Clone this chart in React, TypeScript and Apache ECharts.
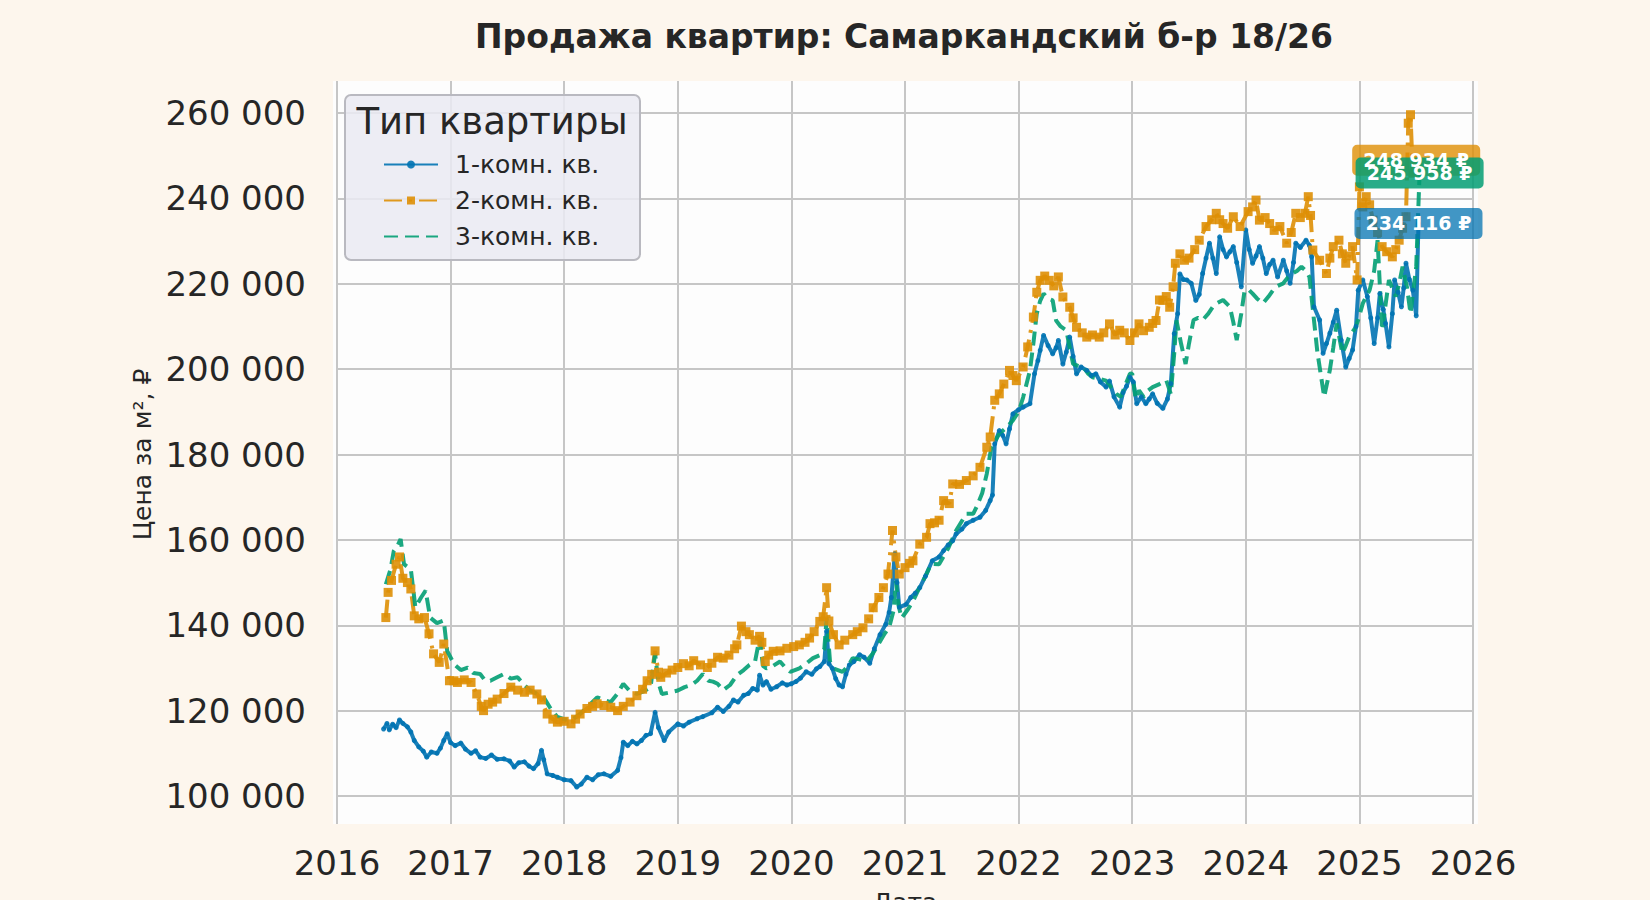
import React, { useEffect, useRef } from "react";
import * as echarts from "echarts";

const TITLE = "Продажа квартир: Самаркандский б-р 18/26";
const LEGEND_TITLE = "Тип квартиры";
const SERIES_NAMES = ["1-комн. кв.", "2-комн. кв.", "3-комн. кв."];
const YEAR_TICKS_MIN = 2016;
const YEAR_TICKS_MAX = 2026;
const PRICE_TICK_MIN = 100000;
const PRICE_TICK_MAX = 260000;
const PRICE_TICK_STEP = 20000;

// [decimal year, price per m²]
const oneRoom: [number, number][] = [
  [2016.41, 115700], [2016.44, 117000], [2016.46, 115500], [2016.49, 116800], [2016.52, 116000],
  [2016.55, 117800], [2016.58, 117000], [2016.62, 116200], [2016.65, 115000], [2016.68, 113000],
  [2016.72, 111500], [2016.76, 110500], [2016.79, 109100], [2016.83, 110300], [2016.88, 110000],
  [2016.91, 111200], [2016.94, 113000], [2016.97, 114600], [2017.0, 112500], [2017.04, 111800],
  [2017.09, 112400], [2017.13, 111000], [2017.18, 110000], [2017.22, 110600], [2017.26, 109100],
  [2017.31, 108800], [2017.36, 109600], [2017.41, 108600], [2017.47, 108700], [2017.52, 108200],
  [2017.56, 106800], [2017.6, 107800], [2017.65, 108000], [2017.69, 107000], [2017.73, 106400],
  [2017.77, 107600], [2017.8, 110700], [2017.82, 108500], [2017.85, 105200], [2017.9, 104800],
  [2017.94, 104400], [2018.0, 103800], [2018.06, 103600], [2018.11, 102100], [2018.15, 102800],
  [2018.2, 104400], [2018.25, 103800], [2018.3, 105000], [2018.35, 105200], [2018.41, 104600],
  [2018.47, 106000], [2018.5, 109000], [2018.52, 112600], [2018.56, 111800], [2018.6, 112800],
  [2018.64, 112200], [2018.68, 113000], [2018.72, 114200], [2018.76, 114600], [2018.8, 119600],
  [2018.83, 116000], [2018.88, 113000], [2018.92, 115000], [2019.0, 116900], [2019.05, 116400],
  [2019.1, 117300], [2019.17, 118100], [2019.22, 118600], [2019.3, 119500], [2019.35, 120800],
  [2019.4, 119800], [2019.45, 121000], [2019.49, 122500], [2019.53, 122000], [2019.58, 123600],
  [2019.62, 124000], [2019.66, 125200], [2019.7, 124800], [2019.72, 128300], [2019.75, 126000],
  [2019.78, 126800], [2019.82, 125000], [2019.87, 125600], [2019.92, 126500], [2019.96, 126000],
  [2020.0, 126300], [2020.04, 126800], [2020.08, 127600], [2020.13, 129100], [2020.18, 128500],
  [2020.22, 129800], [2020.25, 130300], [2020.29, 131500], [2020.31, 138600], [2020.33, 131000],
  [2020.36, 129900], [2020.39, 127500], [2020.42, 126000], [2020.45, 125600], [2020.48, 128500],
  [2020.51, 130700], [2020.55, 131500], [2020.6, 133100], [2020.64, 132500], [2020.69, 131100],
  [2020.73, 134500], [2020.78, 137800], [2020.83, 140200], [2020.86, 143000], [2020.88, 146500],
  [2020.91, 156700], [2020.93, 150000], [2020.95, 144200], [2021.01, 144900], [2021.05, 146500],
  [2021.09, 147500], [2021.13, 148800], [2021.18, 151500], [2021.24, 155100], [2021.3, 156000],
  [2021.34, 157500], [2021.38, 158800], [2021.42, 159800], [2021.45, 161400], [2021.5, 162500],
  [2021.54, 163800], [2021.6, 164600], [2021.66, 165300], [2021.71, 166900], [2021.75, 169200],
  [2021.77, 170500], [2021.79, 182500], [2021.83, 185600], [2021.86, 184500], [2021.89, 182500],
  [2021.92, 186000], [2021.95, 189500], [2022.0, 190500], [2022.04, 191100], [2022.1, 191900],
  [2022.14, 198900], [2022.17, 202000], [2022.19, 204400], [2022.22, 207900], [2022.26, 205500],
  [2022.3, 203600], [2022.33, 205000], [2022.35, 206700], [2022.39, 201200], [2022.42, 204000],
  [2022.45, 207500], [2022.48, 203000], [2022.51, 198900], [2022.55, 200500], [2022.6, 199700],
  [2022.64, 198500], [2022.68, 198900], [2022.72, 197000], [2022.77, 195800], [2022.8, 197200],
  [2022.84, 193500], [2022.89, 191100], [2022.92, 194500], [2022.95, 196000], [2022.98, 198100],
  [2023.01, 197000], [2023.04, 191900], [2023.08, 193500], [2023.12, 191900], [2023.15, 193000],
  [2023.18, 194200], [2023.22, 192000], [2023.27, 190800], [2023.31, 193000], [2023.34, 196600],
  [2023.37, 208300], [2023.4, 213000], [2023.42, 222300], [2023.45, 221000], [2023.48, 220900],
  [2023.52, 220100], [2023.56, 216100], [2023.59, 217500], [2023.62, 222400], [2023.65, 226000],
  [2023.68, 229500], [2023.71, 226000], [2023.74, 222400], [2023.77, 231000], [2023.8, 228000],
  [2023.83, 226300], [2023.86, 227500], [2023.89, 228700], [2023.92, 225000], [2023.96, 219300],
  [2024.0, 232600], [2024.03, 228000], [2024.06, 224800], [2024.09, 226500], [2024.12, 228700],
  [2024.15, 226000], [2024.18, 222400], [2024.21, 224500], [2024.24, 225500], [2024.28, 221600],
  [2024.33, 225500], [2024.36, 223000], [2024.39, 220100], [2024.42, 225000], [2024.44, 229500],
  [2024.48, 228500], [2024.53, 230200], [2024.56, 229000], [2024.58, 226300], [2024.6, 214600],
  [2024.65, 211500], [2024.68, 203700], [2024.71, 206000], [2024.74, 208400], [2024.77, 211000],
  [2024.8, 213800], [2024.84, 206800], [2024.88, 200500], [2024.91, 202500], [2024.94, 204500],
  [2024.97, 210000], [2024.99, 218500], [2025.03, 220900], [2025.07, 217000], [2025.1, 212000],
  [2025.13, 206000], [2025.16, 212000], [2025.18, 217700], [2025.21, 214000], [2025.23, 210700],
  [2025.26, 205200], [2025.29, 213000], [2025.31, 220900], [2025.34, 218000], [2025.37, 214600],
  [2025.39, 219000], [2025.41, 224800], [2025.44, 221000], [2025.47, 218500], [2025.5, 212500],
  [2025.52, 234116],
];

const twoRoom: [number, number][] = [
  [2016.43, 141800], [2016.45, 147700], [2016.48, 150500], [2016.52, 154300], [2016.55, 156000],
  [2016.58, 151000], [2016.62, 150000], [2016.65, 148500], [2016.68, 142200], [2016.72, 141500],
  [2016.77, 141800], [2016.81, 138000], [2016.85, 133300], [2016.9, 131300], [2016.94, 135600],
  [2016.99, 127000], [2017.03, 127000], [2017.06, 126600], [2017.12, 127200], [2017.18, 126600],
  [2017.23, 123900], [2017.27, 121000], [2017.29, 120000], [2017.33, 121500], [2017.37, 122000],
  [2017.41, 122700], [2017.47, 124000], [2017.53, 125500], [2017.59, 124800], [2017.65, 124300],
  [2017.7, 124800], [2017.76, 123900], [2017.8, 122500], [2017.85, 119200], [2017.9, 118000],
  [2017.94, 117300], [2018.0, 117500], [2018.06, 116900], [2018.1, 118000], [2018.14, 119200],
  [2018.2, 120500], [2018.25, 121000], [2018.29, 121600], [2018.35, 121200], [2018.41, 120800],
  [2018.47, 120000], [2018.52, 121000], [2018.58, 122000], [2018.64, 123500], [2018.69, 125000],
  [2018.73, 127000], [2018.77, 128500], [2018.8, 134000], [2018.83, 129000], [2018.85, 127800],
  [2018.9, 128800], [2018.95, 129500], [2019.0, 130100], [2019.05, 131000], [2019.1, 130500],
  [2019.14, 131700], [2019.2, 130700], [2019.26, 130100], [2019.3, 131100], [2019.35, 132500],
  [2019.4, 132300], [2019.45, 133000], [2019.5, 134500], [2019.52, 135400], [2019.56, 139800],
  [2019.6, 138500], [2019.63, 137800], [2019.68, 136500], [2019.72, 137400], [2019.74, 136000],
  [2019.77, 131500], [2019.8, 133000], [2019.84, 133900], [2019.9, 134000], [2019.96, 134600],
  [2020.02, 135000], [2020.07, 135400], [2020.12, 136000], [2020.16, 137000], [2020.2, 138500],
  [2020.25, 140900], [2020.28, 142000], [2020.31, 148800], [2020.33, 141000], [2020.37, 137800],
  [2020.42, 135400], [2020.47, 136500], [2020.54, 137800], [2020.58, 138500], [2020.63, 139400],
  [2020.68, 141500], [2020.72, 144100], [2020.77, 146500], [2020.81, 148800], [2020.85, 152000],
  [2020.89, 162200], [2020.92, 156000], [2020.95, 152000], [2021.0, 153500], [2021.04, 154500],
  [2021.07, 155100], [2021.13, 159000], [2021.19, 160600], [2021.22, 163800], [2021.26, 164000],
  [2021.3, 164600], [2021.34, 169200], [2021.39, 168500], [2021.42, 173100], [2021.48, 173000],
  [2021.54, 173900], [2021.6, 175000], [2021.66, 177000], [2021.72, 181700], [2021.75, 184100],
  [2021.79, 192700], [2021.83, 194200], [2021.87, 196500], [2021.92, 199700], [2021.95, 198500],
  [2021.98, 197300], [2022.04, 200500], [2022.08, 205200], [2022.13, 212200], [2022.16, 218000],
  [2022.19, 220800], [2022.23, 221800], [2022.27, 220800], [2022.31, 219500], [2022.35, 221600],
  [2022.39, 216900], [2022.45, 214500], [2022.48, 212000], [2022.51, 209800], [2022.56, 208500],
  [2022.6, 207500], [2022.65, 208000], [2022.71, 207500], [2022.75, 208500], [2022.8, 210600],
  [2022.85, 208000], [2022.89, 209100], [2022.93, 208500], [2022.98, 206700], [2023.02, 208500],
  [2023.06, 210600], [2023.1, 209000], [2023.15, 209800], [2023.18, 210700], [2023.21, 211400],
  [2023.24, 216200], [2023.27, 216100], [2023.3, 217000], [2023.33, 214500], [2023.36, 219300],
  [2023.38, 224800], [2023.42, 227000], [2023.46, 225500], [2023.5, 226000], [2023.55, 228000],
  [2023.59, 230200], [2023.65, 233400], [2023.7, 235000], [2023.74, 236500], [2023.77, 235000],
  [2023.8, 234100], [2023.84, 233000], [2023.89, 235700], [2023.95, 233400], [2024.02, 236900],
  [2024.06, 238000], [2024.09, 239600], [2024.12, 234900], [2024.17, 235500], [2024.21, 234100],
  [2024.25, 232500], [2024.3, 233400], [2024.36, 229500], [2024.4, 232000], [2024.44, 236500],
  [2024.48, 235500], [2024.52, 236500], [2024.55, 240400], [2024.57, 236000], [2024.59, 227900],
  [2024.65, 225500], [2024.71, 222400], [2024.74, 226000], [2024.77, 228700], [2024.82, 230200],
  [2024.85, 227000], [2024.88, 224800], [2024.91, 226500], [2024.94, 228700], [2024.98, 220900],
  [2025.0, 242700], [2025.03, 238000], [2025.06, 240400], [2025.09, 238500], [2025.12, 234900],
  [2025.16, 232000], [2025.2, 228700], [2025.24, 227500], [2025.29, 226300], [2025.32, 228000],
  [2025.35, 230200], [2025.38, 233000], [2025.41, 235700], [2025.43, 257600], [2025.45, 259600],
  [2025.47, 245900], [2025.5, 248934],
];

const threeRoom: [number, number][] = [
  [2016.43, 149600], [2016.47, 153000], [2016.5, 157400], [2016.53, 158500], [2016.56, 160200],
  [2016.59, 154300], [2016.65, 153100], [2016.69, 144200], [2016.74, 146500], [2016.78, 148100],
  [2016.82, 141800], [2016.88, 140500], [2016.94, 141100], [2016.97, 134000], [2017.03, 130900],
  [2017.09, 129500], [2017.15, 130100], [2017.2, 128800], [2017.26, 128600], [2017.3, 127200],
  [2017.35, 127000], [2017.41, 127800], [2017.47, 128600], [2017.53, 127500], [2017.59, 127800],
  [2017.65, 126000], [2017.7, 124700], [2017.76, 124000], [2017.82, 123100], [2017.88, 120500],
  [2017.94, 118500], [2018.0, 118000], [2018.06, 117700], [2018.12, 118800], [2018.17, 120000],
  [2018.23, 121500], [2018.29, 123100], [2018.35, 122500], [2018.41, 122000], [2018.47, 124000],
  [2018.52, 126300], [2018.58, 124500], [2018.64, 123900], [2018.7, 124500], [2018.76, 125500],
  [2018.8, 133300], [2018.83, 126500], [2018.86, 123900], [2018.92, 124200], [2019.0, 124700],
  [2019.06, 125500], [2019.12, 126000], [2019.17, 127000], [2019.22, 128600], [2019.27, 127000],
  [2019.31, 126800], [2019.35, 126300], [2019.4, 124800], [2019.46, 126000], [2019.52, 128300],
  [2019.58, 129500], [2019.63, 130700], [2019.68, 131500], [2019.72, 137000], [2019.75, 130500],
  [2019.78, 129900], [2019.84, 130500], [2019.9, 131500], [2019.95, 130000], [2019.99, 129100],
  [2020.07, 129900], [2020.13, 131000], [2020.19, 132300], [2020.25, 133000], [2020.29, 134500],
  [2020.31, 141700], [2020.34, 131500], [2020.37, 129900], [2020.45, 129100], [2020.5, 130500],
  [2020.54, 132300], [2020.6, 132000], [2020.66, 131500], [2020.72, 133500], [2020.78, 136200],
  [2020.82, 138000], [2020.86, 139400], [2020.9, 143500], [2020.92, 150400], [2020.94, 145000],
  [2020.97, 141700], [2021.02, 143500], [2021.07, 145600], [2021.13, 149000], [2021.19, 152000],
  [2021.23, 154400], [2021.3, 154300], [2021.38, 158000], [2021.45, 162200], [2021.54, 166100],
  [2021.6, 166100], [2021.63, 167700], [2021.68, 171000], [2021.72, 175500], [2021.76, 181700],
  [2021.8, 183500], [2021.83, 184800], [2021.9, 186500], [2021.95, 188000], [2022.0, 190000],
  [2022.04, 193400], [2022.1, 199700], [2022.13, 206000], [2022.16, 213000], [2022.19, 216000],
  [2022.22, 217700], [2022.26, 216500], [2022.3, 216100], [2022.33, 211400], [2022.37, 210000],
  [2022.42, 209100], [2022.45, 205000], [2022.48, 201200], [2022.52, 200800], [2022.57, 200500],
  [2022.61, 199000], [2022.65, 198100], [2022.7, 197800], [2022.77, 197300], [2022.82, 195500],
  [2022.86, 194200], [2022.9, 193500], [2022.95, 197000], [2022.98, 198900], [2023.0, 199000],
  [2023.03, 193000], [2023.06, 195000], [2023.1, 193500], [2023.14, 195000], [2023.18, 195800],
  [2023.24, 196500], [2023.3, 197400], [2023.34, 194200], [2023.37, 203700], [2023.39, 211400],
  [2023.43, 206000], [2023.47, 201200], [2023.5, 206000], [2023.54, 211500], [2023.58, 212000],
  [2023.62, 211500], [2023.67, 213000], [2023.71, 214600], [2023.75, 215500], [2023.8, 216200],
  [2023.86, 214600], [2023.89, 211000], [2023.92, 206800], [2023.96, 213000], [2023.99, 218500],
  [2024.03, 218500], [2024.06, 217700], [2024.1, 216500], [2024.15, 215400], [2024.2, 217000],
  [2024.24, 218500], [2024.28, 219500], [2024.33, 220100], [2024.37, 221500], [2024.41, 222400],
  [2024.45, 223000], [2024.49, 224000], [2024.53, 223000], [2024.56, 221600], [2024.6, 211500],
  [2024.63, 204000], [2024.65, 200500], [2024.69, 193500], [2024.74, 199800], [2024.77, 205000],
  [2024.8, 210700], [2024.85, 203700], [2024.88, 205500], [2024.91, 207600], [2024.97, 209900],
  [2025.0, 212500], [2025.03, 215400], [2025.06, 217000], [2025.09, 218500], [2025.13, 223000],
  [2025.16, 230200], [2025.2, 209100], [2025.23, 215000], [2025.26, 220900], [2025.32, 217000],
  [2025.35, 220000], [2025.38, 224000], [2025.42, 219000], [2025.45, 213000], [2025.5, 224000],
  [2025.53, 245958],
];

const COLORS = ["#0173b2", "#de8f05", "#029e73"];
const LABEL_BG = ["rgba(1,115,178,0.75)", "rgba(222,143,5,0.8)", "rgba(2,158,115,0.85)"];
const FONT = "DejaVu Sans";
const LABEL_SHAPE =
  "path://M5,0 H123 A5,5 0 0 1 128,5 V26 A5,5 0 0 1 123,31 H5 A5,5 0 0 1 0,26 V5 A5,5 0 0 1 5,0 Z";

const fmtThousands = (v: number) => String(Math.round(v)).replace(/\B(?=(\d{3})+(?!\d))/g, " ");

function endLabel(data: [number, number][], idx: number) {
  const last = data[data.length - 1];
  return {
    silent: true,
    symbol: LABEL_SHAPE,
    symbolSize: [128, 31],
    itemStyle: { color: LABEL_BG[idx] },
    label: {
      show: true,
      position: "inside",
      formatter: () => fmtThousands(last[1]) + " ₽",
      color: "#ffffff",
      fontWeight: "bold",
      fontSize: 19,
      fontFamily: FONT,
    },
    data: [{ coord: [last[0], last[1]], value: last[1] }],
  };
}

export default function App() {
  const ref = useRef<HTMLDivElement>(null);

  useEffect(() => {
    document.body.style.margin = "0";
    if (!ref.current) return;
    const chart = echarts.init(ref.current, undefined, { renderer: "svg" });

    const gridLine = { show: true, lineStyle: { color: "#c6c6c6", width: 2 } };

    const option: any = {
      animation: false,
      backgroundColor: "#fdf6ed",
      textStyle: { fontFamily: FONT },
      title: {
        text: TITLE,
        left: 899,
        top: 15,
        textAlign: "center",
        textStyle: { fontFamily: FONT, fontSize: 33, fontWeight: "bold", color: "#262626" },
      },
      graphic: {
        elements: [
          {
            type: "rect",
            z: -10,
            silent: true,
            shape: { x: 333, y: 81, width: 1145, height: 743 },
            style: { fill: "#fdfdfd" },
          },
          {
            type: "rect",
            z: 10,
            silent: true,
            shape: { x: 345, y: 95, width: 295, height: 165, r: 6 },
            style: { fill: "rgba(234,234,242,0.85)", stroke: "#b9b9c0", lineWidth: 2 },
          },
          {
            type: "text",
            z: 11,
            silent: true,
            x: 492,
            y: 121,
            style: {
              text: LEGEND_TITLE,
              fontFamily: FONT,
              fontSize: 37,
              fill: "#262626",
              align: "center",
              verticalAlign: "middle",
            },
          },
        ],
      },
      legend: {
        z: 12,
        orient: "vertical",
        left: 383,
        top: 152,
        padding: 0,
        itemWidth: 54,
        itemHeight: 10,
        itemGap: 11,
        data: [
          { name: SERIES_NAMES[0] },
          { name: SERIES_NAMES[1] },
          { name: SERIES_NAMES[2], itemStyle: { opacity: 0 } },
        ],
        textStyle: { fontFamily: FONT, fontSize: 25, color: "#262626", padding: [0, 0, 0, 12] },
      },
      grid: [
        { left: 337, right: 177, top: 81, bottom: 76, outerBoundsMode: "none", containLabel: false },
        { left: 337, right: 177, top: 113, bottom: 104, outerBoundsMode: "none", containLabel: false },
      ],
      xAxis: [
        {
          gridIndex: 0,
          type: "value",
          min: YEAR_TICKS_MIN,
          max: YEAR_TICKS_MAX,
          interval: 1,
          axisLine: { show: false },
          axisTick: { show: false },
          splitLine: gridLine,
          axisLabel: {
            formatter: (v: number) => String(v),
            fontFamily: FONT,
            fontSize: 34,
            color: "#262626",
            margin: 22,
          },
          name: "Дата",
          nameLocation: "middle",
          nameGap: 66,
          nameTextStyle: { fontFamily: FONT, fontSize: 25, color: "#262626" },
        },
        {
          gridIndex: 1,
          type: "value",
          min: YEAR_TICKS_MIN,
          max: YEAR_TICKS_MAX,
          show: false,
        },
      ],
      yAxis: [
        {
          gridIndex: 0,
          type: "value",
          min: 93441,
          max: 267496,
          show: false,
          splitLine: { show: false },
        },
        {
          gridIndex: 1,
          type: "value",
          min: PRICE_TICK_MIN,
          max: PRICE_TICK_MAX,
          interval: PRICE_TICK_STEP,
          axisLine: { show: false },
          axisTick: { show: false },
          splitLine: gridLine,
          axisLabel: {
            formatter: (v: number) => fmtThousands(v),
            fontFamily: FONT,
            fontSize: 34,
            color: "#262626",
            margin: 31,
          },
          name: "Цена за м², ₽",
          nameLocation: "middle",
          nameGap: 182,
          nameTextStyle: { fontFamily: FONT, fontSize: 25, color: "#262626" },
        },
      ],
      series: [
        {
          name: SERIES_NAMES[0],
          type: "line",
          xAxisIndex: 0,
          yAxisIndex: 0,
          data: oneRoom,
          symbol: "circle",
          symbolSize: 5,
          showSymbol: true,
          color: COLORS[0],
          itemStyle: { color: COLORS[0], opacity: 0.9 },
          lineStyle: { color: COLORS[0], width: 4, opacity: 0.9 },
          markPoint: endLabel(oneRoom, 0),
        },
        {
          name: SERIES_NAMES[1],
          type: "line",
          xAxisIndex: 0,
          yAxisIndex: 0,
          data: twoRoom,
          symbol: "rect",
          symbolSize: 9,
          showSymbol: true,
          color: COLORS[1],
          itemStyle: { color: COLORS[1], opacity: 0.9 },
          lineStyle: { color: COLORS[1], width: 4, opacity: 0.9, type: [18, 7, 3, 7] },
          markPoint: endLabel(twoRoom, 1),
        },
        {
          name: SERIES_NAMES[2],
          type: "line",
          xAxisIndex: 0,
          yAxisIndex: 0,
          data: threeRoom,
          symbol: "none",
          showSymbol: false,
          color: COLORS[2],
          itemStyle: { color: COLORS[2] },
          lineStyle: { color: COLORS[2], width: 4, opacity: 0.9, type: [14, 7] },
          markPoint: endLabel(threeRoom, 2),
        },
      ],
    };

    chart.setOption(option);
    return () => chart.dispose();
  }, []);

  return <div ref={ref} style={{ width: 1650, height: 900 }} />;
}
